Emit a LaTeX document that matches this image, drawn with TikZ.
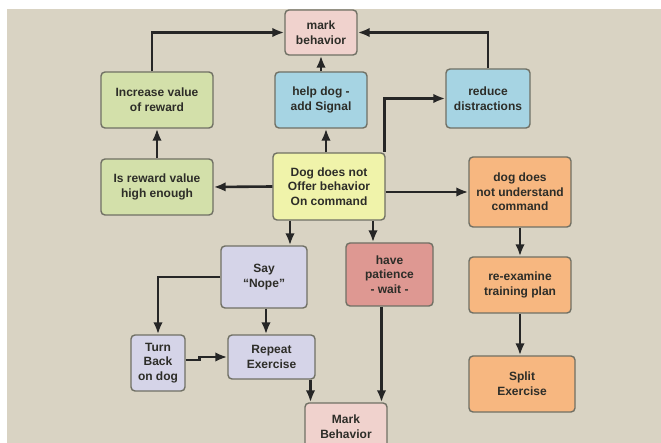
\documentclass[tikz,border=0pt]{standalone}
\usepackage{fontspec}
\setmainfont{Liberation Sans}
\usetikzlibrary{arrows.meta}
\definecolor{bgbeige}{RGB}{217,211,195}
\definecolor{markpink}{RGB}{240,210,205}
\definecolor{rewardgreen}{RGB}{211,224,170}
\definecolor{signalblue}{RGB}{166,212,227}
\definecolor{dogyellow}{RGB}{240,243,170}
\definecolor{planorange}{RGB}{247,183,128}
\definecolor{nopelilac}{RGB}{213,212,232}
\definecolor{waitrose}{RGB}{222,152,146}
\definecolor{edgegray}{RGB}{112,112,100}
\definecolor{inkgray}{RGB}{45,45,40}

\begin{document}
\begin{tikzpicture}[x=1pt,y=-1pt,
  box/.style={draw=edgegray, line width=1.4pt, rounded corners=4pt, inner sep=0pt,
    align=center, text=inkgray, font=\fontsize{12}{14.7}\selectfont\bfseries},
  arr/.style={line width=2.6pt, draw=black!85, -{Latex[length=12pt,width=9.5pt]}}]
  \useasboundingbox (0,0) rectangle (661,443);
  \path[fill=bgbeige] (7,9) rectangle (661,443);

  \node[box, fill=markpink, minimum width=72, minimum height=45] (markTop) at (321,32.5) {mark\\behavior};
  \node[box, fill=rewardgreen, minimum width=112, minimum height=56] (increase) at (157,100) {Increase value\\of reward};
  \node[box, fill=signalblue, minimum width=92, minimum height=56] (helpDog) at (321,100) {help dog -\\add Signal};
  \node[box, fill=signalblue, minimum width=84, minimum height=59] (reduce) at (488,98.5) {reduce\\distractions};
  \node[box, fill=rewardgreen, minimum width=112, minimum height=56] (isReward) at (157,187) {Is reward value\\high enough};
  \node[box, fill=dogyellow, minimum width=112, minimum height=67] (dogNot) at (329,186.5) {Dog does not\\Offer behavior\\On command};
  \node[box, fill=planorange, minimum width=102, minimum height=70] (understand) at (520,192) {dog does\\not understand\\command};
  \node[box, fill=nopelilac, minimum width=86, minimum height=62] (sayNope) at (264,277) {Say\\“Nope”};
  \node[box, fill=waitrose, minimum width=87, minimum height=63] (patience) at (389.5,274.5) {have\\patience\\- wait -};
  \node[box, fill=planorange, minimum width=102, minimum height=56] (reexamine) at (520,285) {re-examine\\training plan};
  \node[box, fill=nopelilac, minimum width=54, minimum height=56] (turnBack) at (158,363) {Turn\\Back\\on dog};
  \node[box, fill=nopelilac, minimum width=87, minimum height=44] (repeatEx) at (271.5,357) {Repeat\\Exercise};
  \node[box, fill=planorange, minimum width=106, minimum height=56] (split) at (522,384) {Split\\Exercise};
  \node[box, fill=markpink, minimum width=82, minimum height=48] (markBottom) at (346,427) {Mark\\Behavior};

  \draw[arr] ([xshift=-5pt]increase.north) |- (markTop.west);
  \draw[arr] (reduce.north) |- (markTop.east);
  \draw[arr] (helpDog.north) -- (markTop.south);
  \draw[arr] (isReward.north) -- (increase.south);
  \draw[arr] ([xshift=-3pt]dogNot.north) -- ([xshift=-3pt]dogNot.north |- helpDog.south);
  \draw[arr] ([xshift=-1pt]dogNot.north east) |- (reduce.west);
  \draw[arr] (dogNot.west) -- (isReward.east);
  \draw[arr] (dogNot.east |- understand.west) -- (understand.west);
  \draw[arr] ([xshift=-39pt]dogNot.south) -- ([xshift=-39pt]dogNot.south |- sayNope.north);
  \draw[arr] ([xshift=44pt]dogNot.south) -- ([xshift=44pt]dogNot.south |- patience.north);
  \draw[arr] (understand.south) -- (reexamine.north);
  \draw[arr] (reexamine.south) -- (reexamine.south |- split.north);
  \draw[arr] (sayNope.west) -| (turnBack.north);
  \draw[arr] ([xshift=2pt]sayNope.south) -- ([xshift=2pt]sayNope.south |- repeatEx.north);
  \draw[arr] ([yshift=3pt]turnBack.east) -- ++(14,0) |- (repeatEx.west);
  \draw[arr] ([xshift=39pt]repeatEx.south) -- ([xshift=39pt]repeatEx.south |- markBottom.north);
  \draw[arr] ([xshift=-8pt]patience.south) -- ([xshift=-8pt]patience.south |- markBottom.north);
\end{tikzpicture}
\end{document}
